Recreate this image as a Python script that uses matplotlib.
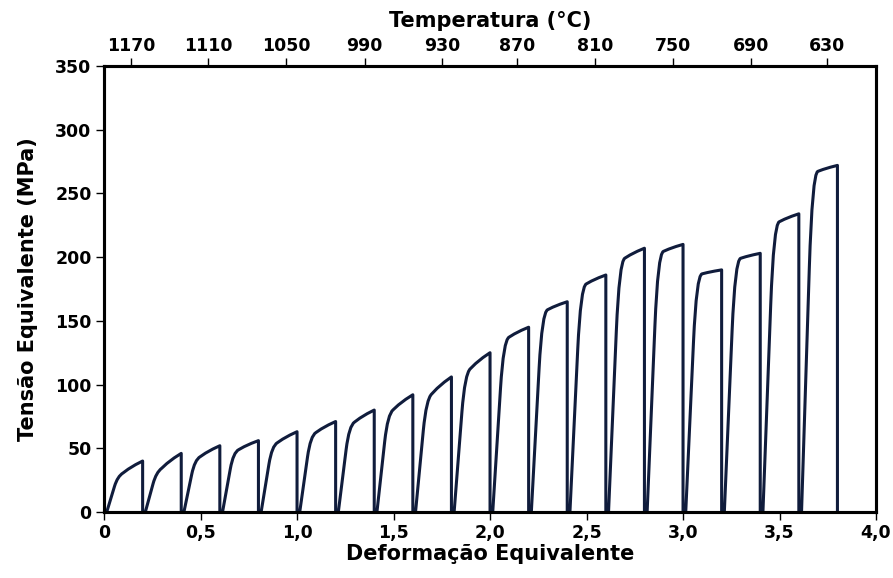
import matplotlib
matplotlib.use("Agg")
import matplotlib.pyplot as plt
from matplotlib.path import Path
from matplotlib.patches import PathPatch

plt.rcParams['font.family'] = ['DejaVu Sans']
plt.rcParams['font.weight'] = 'bold'

# Multi-pass torsion test: 19 passes of 0.2 strain each
pass_strain = 0.2
knee_stress = [28, 31, 41, 47, 52, 60, 68, 77, 89, 109, 135, 157, 177, 197, 203, 186, 198, 226, 266]
peak_stress = [40, 46, 52, 56, 63, 71, 80, 92, 106, 125, 145, 165, 186, 207, 210, 190, 203, 234, 272]

# Temperature axis (top)
temp_labels = ["1170", "1110", "1050", "990", "930", "870", "810", "750", "690", "630"]
temp_pos = [0.14, 0.54, 0.945, 1.35, 1.75, 2.14, 2.545, 2.95, 3.35, 3.745]

x_ticks = [0, 0.5, 1.0, 1.5, 2.0, 2.5, 3.0, 3.5, 4.0]
x_labels = ["0", "0,5", "1,0", "1,5", "2,0", "2,5", "3,0", "3,5", "4,0"]
y_ticks = [0, 50, 100, 150, 200, 250, 300, 350]

line_color = "#101c3c"

fig = plt.figure(figsize=(8.93, 5.78), dpi=100)
ax = fig.add_axes([0.1165, 0.1142, 0.8645, 0.7716])

# build the flow curves as one path: rise, rounded knee, hardening, unload
verts = [(0.0, 0.0)]
codes = [Path.MOVETO]
for i, (kn, pk) in enumerate(zip(knee_stress, peak_stress)):
    s = i * pass_strain
    e = s + pass_strain
    a = s + 0.014
    qx = s + 0.07
    # corner start on the rise line and corner end on the hardening line
    r = (a + 0.72 * (qx - a), 0.72 * kn)
    t = (qx + 0.22 * (e - qx), kn + 0.22 * (pk - kn))
    mid = (qx + 0.55 * (e - qx), kn + 0.62 * (pk - kn))
    verts += [(a, 0.0), r, (qx, kn), t, mid, mid, (e, pk), (e, 0.0)]
    codes += [Path.LINETO, Path.LINETO, Path.CURVE3, Path.CURVE3,
              Path.CURVE4, Path.CURVE4, Path.CURVE4, Path.LINETO]

ax.add_patch(PathPatch(Path(verts, codes), fill=False, edgecolor=line_color,
                       linewidth=2.2, joinstyle='round', capstyle='round'))

ax.set_xlim(0, 4.0)
ax.set_ylim(0, 350)
ax.set_xticks(x_ticks)
ax.set_xticklabels(x_labels)
ax.set_yticks(y_ticks)
ax.tick_params(axis='both', labelsize=12.5, width=1.0, length=6, direction='out', pad=3)
for sp in ax.spines.values():
    sp.set_linewidth(2.2)

ax.set_xlabel("Deformação Equivalente", fontsize=15, fontweight='bold', labelpad=1)
ax.set_ylabel("Tensão Equivalente (MPa)", fontsize=15, fontweight='bold', labelpad=12)

top = ax.twiny()
top.set_xlim(ax.get_xlim())
top.set_xticks(temp_pos)
top.set_xticklabels(temp_labels)
top.tick_params(axis='x', labelsize=12.5, width=1.0, length=6, direction='out', pad=2)
top.set_xlabel("Temperatura (°C)", fontsize=15, fontweight='bold', labelpad=7)
for sp in top.spines.values():
    sp.set_linewidth(2.2)

fig.savefig("out.png", dpi=100)
